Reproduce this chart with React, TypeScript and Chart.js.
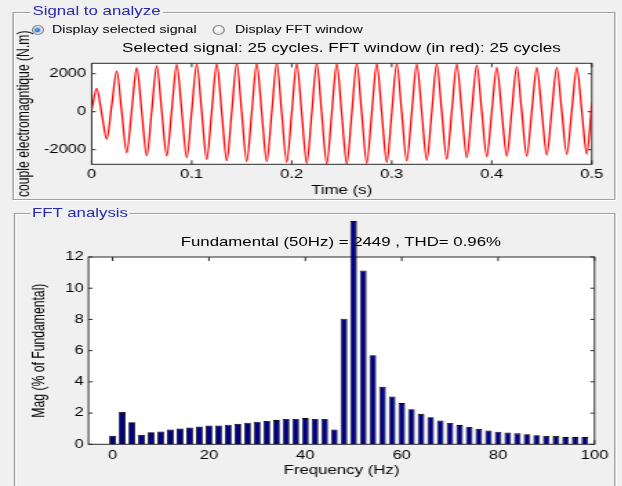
import React, { useEffect, useRef } from 'react';
import { Chart, registerables } from 'chart.js';

Chart.register(...registerables);

// ---------- data ----------
const signalTime = [
  0, 0.005, 0.01, 0.015, 0.02, 0.025, 0.03, 0.035, 0.04, 0.045,
  0.05, 0.055, 0.06, 0.065, 0.07, 0.075, 0.08, 0.085, 0.09, 0.095,
  0.1, 0.105, 0.11, 0.115, 0.12, 0.125, 0.13, 0.135, 0.14, 0.145,
  0.15, 0.155, 0.16, 0.165, 0.17, 0.175, 0.18, 0.185, 0.19, 0.195,
  0.2, 0.205, 0.21, 0.215, 0.22, 0.225, 0.23, 0.235, 0.24, 0.245,
  0.25, 0.255, 0.26, 0.265, 0.27, 0.275, 0.28, 0.285, 0.29, 0.295,
  0.3, 0.305, 0.31, 0.315, 0.32, 0.325, 0.33, 0.335, 0.34, 0.345,
  0.35, 0.355, 0.36, 0.365, 0.37, 0.375, 0.38, 0.385, 0.39, 0.395,
  0.4, 0.405, 0.41, 0.415, 0.42, 0.425, 0.43, 0.435, 0.44, 0.445,
  0.45, 0.455, 0.46, 0.465, 0.47, 0.475, 0.48, 0.485, 0.49, 0.495,
  0.5,
];
const signalValue = [
  100, 1230, -100, -1440, 350, 2140, -10, -2160, 80, 2315,
  0, -2315, 40, 2420, 40, -2335, 80, 2490, 35, -2420,
  45, 2510, 0, -2510, 15, 2540, -20, -2580, -20, 2545,
  -45, -2630, -45, 2545, -45, -2630, -45, 2545, -60, -2665,
  -60, 2545, -90, -2720, -90, 2545, -105, -2755, -105, 2540,
  -110, -2755, -110, 2535, -90, -2720, -90, 2525, -70, -2665,
  -70, 2515, -40, -2600, -40, 2510, -25, -2560, -25, 2505,
  5, -2490, 5, 2505, 40, -2420, 40, 2455, 40, -2370,
  0, 2335, -20, -2335, 15, 2370, 15, -2335, 0, 2335,
  30, -2280, 30, 2335, 45, -2245, 45, 2335, 50, -2230,
  440,
];
const timeTicks = [0, 0.1, 0.2, 0.3, 0.4, 0.5];
const timeTickLabels = ['0', '0.1', '0.2', '0.3', '0.4', '0.5'];
const signalTicks = [-2000, 0, 2000];
const signalMin = -2770;
const signalMax = 2550;

const fftFreq = [
  0, 2, 4, 6, 8, 10, 12, 14, 16, 18,
  20, 22, 24, 26, 28, 30, 32, 34, 36, 38,
  40, 42, 44, 46, 48, 50, 52, 54, 56, 58,
  60, 62, 64, 66, 68, 70, 72, 74, 76, 78,
  80, 82, 84, 86, 88, 90, 92, 94, 96, 98,
];
const fftMag = [
  0.54, 2.07, 1.42, 0.6, 0.78, 0.82, 0.95, 1.01, 1.08, 1.14,
  1.2, 1.2, 1.25, 1.31, 1.38, 1.44, 1.5, 1.55, 1.62, 1.62,
  1.68, 1.62, 1.62, 0.95, 8.05, 14.3, 11.13, 5.71, 3.68, 3.07,
  2.64, 2.25, 1.95, 1.73, 1.53, 1.36, 1.23, 1.11, 0.99, 0.89,
  0.81, 0.75, 0.7, 0.64, 0.58, 0.53, 0.53, 0.46, 0.46, 0.46,
];
const freqTicks = [0, 20, 40, 60, 80, 100];
const magTicks = [0, 2, 4, 6, 8, 10, 12];

// ---------- look ----------
const S = 1.38; // horizontal stretch of the whole scene
const W = 451;
const H = 486;
const FONT = "'Liberation Sans', Arial, Helvetica, sans-serif";
const BLUE_TITLE = '#2828B0';

const matlabAxes = {
  id: 'matlabAxes',
  beforeDraw(chart: any) {
    const { ctx, chartArea: a } = chart;
    ctx.save();
    ctx.fillStyle = '#ffffff';
    ctx.fillRect(a.left, a.top, a.right - a.left, a.bottom - a.top);
    ctx.restore();
  },
  beforeDatasetsDraw(chart: any) {
    const { ctx, chartArea: a, scales } = chart;
    const x = scales.x;
    const y = scales.y;
    ctx.save();
    ctx.strokeStyle = '#2a2a2a';
    ctx.lineWidth = 1;
    ctx.strokeRect(a.left, a.top, a.right - a.left, a.bottom - a.top);
    ctx.beginPath();
    x.ticks.forEach((t: any) => {
      const p = x.getPixelForValue(t.value);
      ctx.moveTo(p, a.bottom);
      ctx.lineTo(p, a.bottom - 4);
      ctx.moveTo(p, a.top);
      ctx.lineTo(p, a.top + 4);
    });
    y.ticks.forEach((t: any) => {
      const p = y.getPixelForValue(t.value);
      ctx.moveTo(a.left, p);
      ctx.lineTo(a.left + 3, p);
      ctx.moveTo(a.right, p);
      ctx.lineTo(a.right - 3, p);
    });
    ctx.stroke();
    ctx.restore();
  },
};

const tickFont = { family: FONT, size: 12 };
const titleFont = { family: FONT, size: 12.2 };

function SignalChart() {
  const ref = useRef<HTMLCanvasElement>(null);
  useEffect(() => {
    const chart = new Chart(ref.current as HTMLCanvasElement, {
      type: 'line',
      data: {
        datasets: [
          {
            data: signalTime.map((t, i) => ({ x: t, y: signalValue[i] })),
            borderColor: '#ff0000',
            borderWidth: 1.3,
            pointRadius: 0,
            cubicInterpolationMode: 'monotone',
            fill: false,
          } as any,
        ],
      },
      options: {
        responsive: false,
        animation: false,
        devicePixelRatio: 1,
        events: [],
        layout: { padding: { left: 10.2, right: W - 428.8, top: 63.3, bottom: 0 } },
        plugins: { legend: { display: false }, tooltip: { enabled: false }, title: { display: false } },
        scales: {
          x: {
            type: 'linear',
            min: 0,
            max: 0.5,
            afterBuildTicks: (s: any) => { s.ticks = timeTicks.map((v) => ({ value: v })); },
            afterFit: (s: any) => { s.height = 200 - 164.3; },
            grid: { display: false, drawTicks: false },
            border: { display: false },
            ticks: {
              padding: 3,
              maxRotation: 0,
              autoSkip: false,
              color: '#000',
              font: tickFont,
              callback: (_v: any, i: number) => timeTickLabels[i],
            },
            title: { display: true, text: 'Time (s)', color: '#000', font: titleFont, padding: { top: 0, bottom: 1.8 } },
          },
          y: {
            type: 'linear',
            min: signalMin,
            max: signalMax,
            afterBuildTicks: (s: any) => { s.ticks = signalTicks.map((v) => ({ value: v })); },
            afterFit: (s: any) => { s.width = 66.45 - 10.2; },
            grid: { display: false, drawTicks: false },
            border: { display: false },
            ticks: { padding: 4, color: '#000', font: tickFont, callback: (v: any) => String(v) },
            title: {
              display: true,
              text: 'couple electromagntique (N.m)',
              color: '#000',
              font: titleFont,
              padding: { top: 0, bottom: 0 },
            },
          },
        },
      } as any,
      plugins: [matlabAxes],
    });
    return () => chart.destroy();
  }, []);
  return (
    <canvas
      ref={ref}
      width={W}
      height={200}
      style={{ position: 'absolute', left: 0, top: 0, width: W, height: 200 }}
    />
  );
}

function FftChart() {
  const ref = useRef<HTMLCanvasElement>(null);
  useEffect(() => {
    const chart = new Chart(ref.current as HTMLCanvasElement, {
      type: 'bar',
      data: {
        datasets: [
          {
            data: fftFreq.map((f, i) => ({ x: f, y: fftMag[i] })),
            backgroundColor: '#000080',
            borderColor: '#000000',
            borderWidth: 0.8,
            barPercentage: 0.7,
            categoryPercentage: 1,
            clip: false,
          } as any,
        ],
      },
      options: {
        responsive: false,
        animation: false,
        devicePixelRatio: 1,
        events: [],
        layout: { padding: { left: 21.8, right: W - 430.8, top: 44, bottom: 0 } },
        plugins: { legend: { display: false }, tooltip: { enabled: false }, title: { display: false } },
        scales: {
          x: {
            type: 'linear',
            min: -5,
            max: 100,
            offset: false,
            afterBuildTicks: (s: any) => { s.ticks = freqTicks.map((v) => ({ value: v })); },
            afterFit: (s: any) => { s.height = 273 - 231.3; },
            grid: { display: false, drawTicks: false, offset: false },
            border: { display: false },
            ticks: { padding: 4, maxRotation: 0, autoSkip: false, color: '#000', font: tickFont, callback: (v: any) => String(v) },
            title: { display: true, text: 'Frequency (Hz)', color: '#000', font: titleFont, padding: { top: 0, bottom: 8.3 } },
          },
          y: {
            type: 'linear',
            min: 0,
            max: 12,
            afterBuildTicks: (s: any) => { s.ticks = magTicks.map((v) => ({ value: v })); },
            afterFit: (s: any) => { s.width = 64.1 - 21.8; },
            grid: { display: false, drawTicks: false },
            border: { display: false },
            ticks: { padding: 3.5, color: '#000', font: tickFont, callback: (v: any) => String(v) },
            title: {
              display: true,
              text: 'Mag (% of Fundamental)',
              color: '#000',
              font: titleFont,
              padding: { top: 0, bottom: 0 },
            },
          },
        },
      } as any,
      plugins: [matlabAxes],
    });
    return () => chart.destroy();
  }, []);
  return (
    <canvas
      ref={ref}
      width={W}
      height={273}
      style={{ position: 'absolute', left: 0, top: 213, width: W, height: 273 }}
    />
  );
}

function Text(props: {
  x: number;
  cy: number;
  text: string;
  size: number;
  color?: string;
  center?: boolean;
  bg?: string;
}) {
  const h = 16;
  const style: any = {
    position: 'absolute',
    top: props.cy - h / 2,
    height: h,
    lineHeight: h + 'px',
    fontSize: props.size,
    fontFamily: FONT,
    color: props.color || '#000',
    whiteSpace: 'nowrap',
  };
  if (props.center) {
    style.left = props.x - 250;
    style.width = 500;
    style.textAlign = 'center';
  } else {
    style.left = props.x - (props.bg ? 1.5 : 0);
    if (props.bg) {
      style.background = props.bg;
      style.padding = '0 1.5px';
    }
  }
  return <div style={style}>{props.text}</div>;
}

function GroupBox(props: { left: number; top: number; right: number; bottom: number }) {
  return (
    <div
      style={{
        position: 'absolute',
        left: props.left,
        top: props.top,
        width: props.right - props.left,
        height: props.bottom - props.top,
        boxSizing: 'border-box',
        border: '1px solid #a0a0a0',
        boxShadow: 'inset 1px 1px 0 #ffffff, 1px 1px 0 #ffffff',
      }}
    />
  );
}

function Radio(props: { cx: number; cy: number; checked: boolean }) {
  const w = 9;
  const h = 10;
  return (
    <div
      style={{
        position: 'absolute',
        left: props.cx - w / 2,
        top: props.cy - h / 2,
        width: w,
        height: h,
        boxSizing: 'border-box',
        borderRadius: '50%',
        border: '1px solid #8a8c8e',
        background: 'radial-gradient(circle at 40% 35%, #ffffff, #d9d9d9)',
      }}
    >
      {props.checked ? (
        <div
          style={{
            position: 'absolute',
            left: 1.5,
            top: 1.8,
            width: 4,
            height: 4.4,
            borderRadius: '50%',
            background: 'radial-gradient(circle at 40% 35%, #6fb0ff, #0b3e9e)',
            boxShadow: '0 0 0 1px #9cc7f2',
          }}
        />
      ) : null}
    </div>
  );
}

export default function App() {
  return (
    <div
      style={{
        position: 'fixed',
        left: 0,
        top: 0,
        width: 622,
        height: H,
        overflow: 'hidden',
        background: '#f0f0f0',
      }}
    >
      <div
        style={{
          position: 'absolute',
          left: 0,
          top: 0,
          width: W,
          height: H,
          transform: `scaleX(${S})`,
          transformOrigin: '0 0',
        }}
      >
        <GroupBox left={9.4} top={12} right={445.7} bottom={200} />
        <GroupBox left={10.1} top={213} right={445.7} bottom={500} />
        <Text x={23.5} cy={11} text="Signal to analyze" size={12.2} color={BLUE_TITLE} bg="#f0f0f0" />
        <Text x={23.2} cy={212.5} text="FFT analysis" size={12.2} color={BLUE_TITLE} bg="#f0f0f0" />
        <Radio cx={27.2} cy={30} checked={true} />
        <Text x={37.7} cy={30} text="Display selected signal" size={10.3} />
        <Radio cx={158.4} cy={30} checked={false} />
        <Text x={170.3} cy={30} text="Display FFT window" size={10.3} />
        <Text
          x={247.4}
          cy={48}
          center
          text="Selected signal: 25 cycles. FFT window (in red): 25 cycles"
          size={12.4}
        />
        <Text x={247} cy={242} center text="Fundamental (50Hz) = 2449 , THD= 0.96%" size={12.2} />
        <SignalChart />
        <FftChart />
      </div>
    </div>
  );
}
